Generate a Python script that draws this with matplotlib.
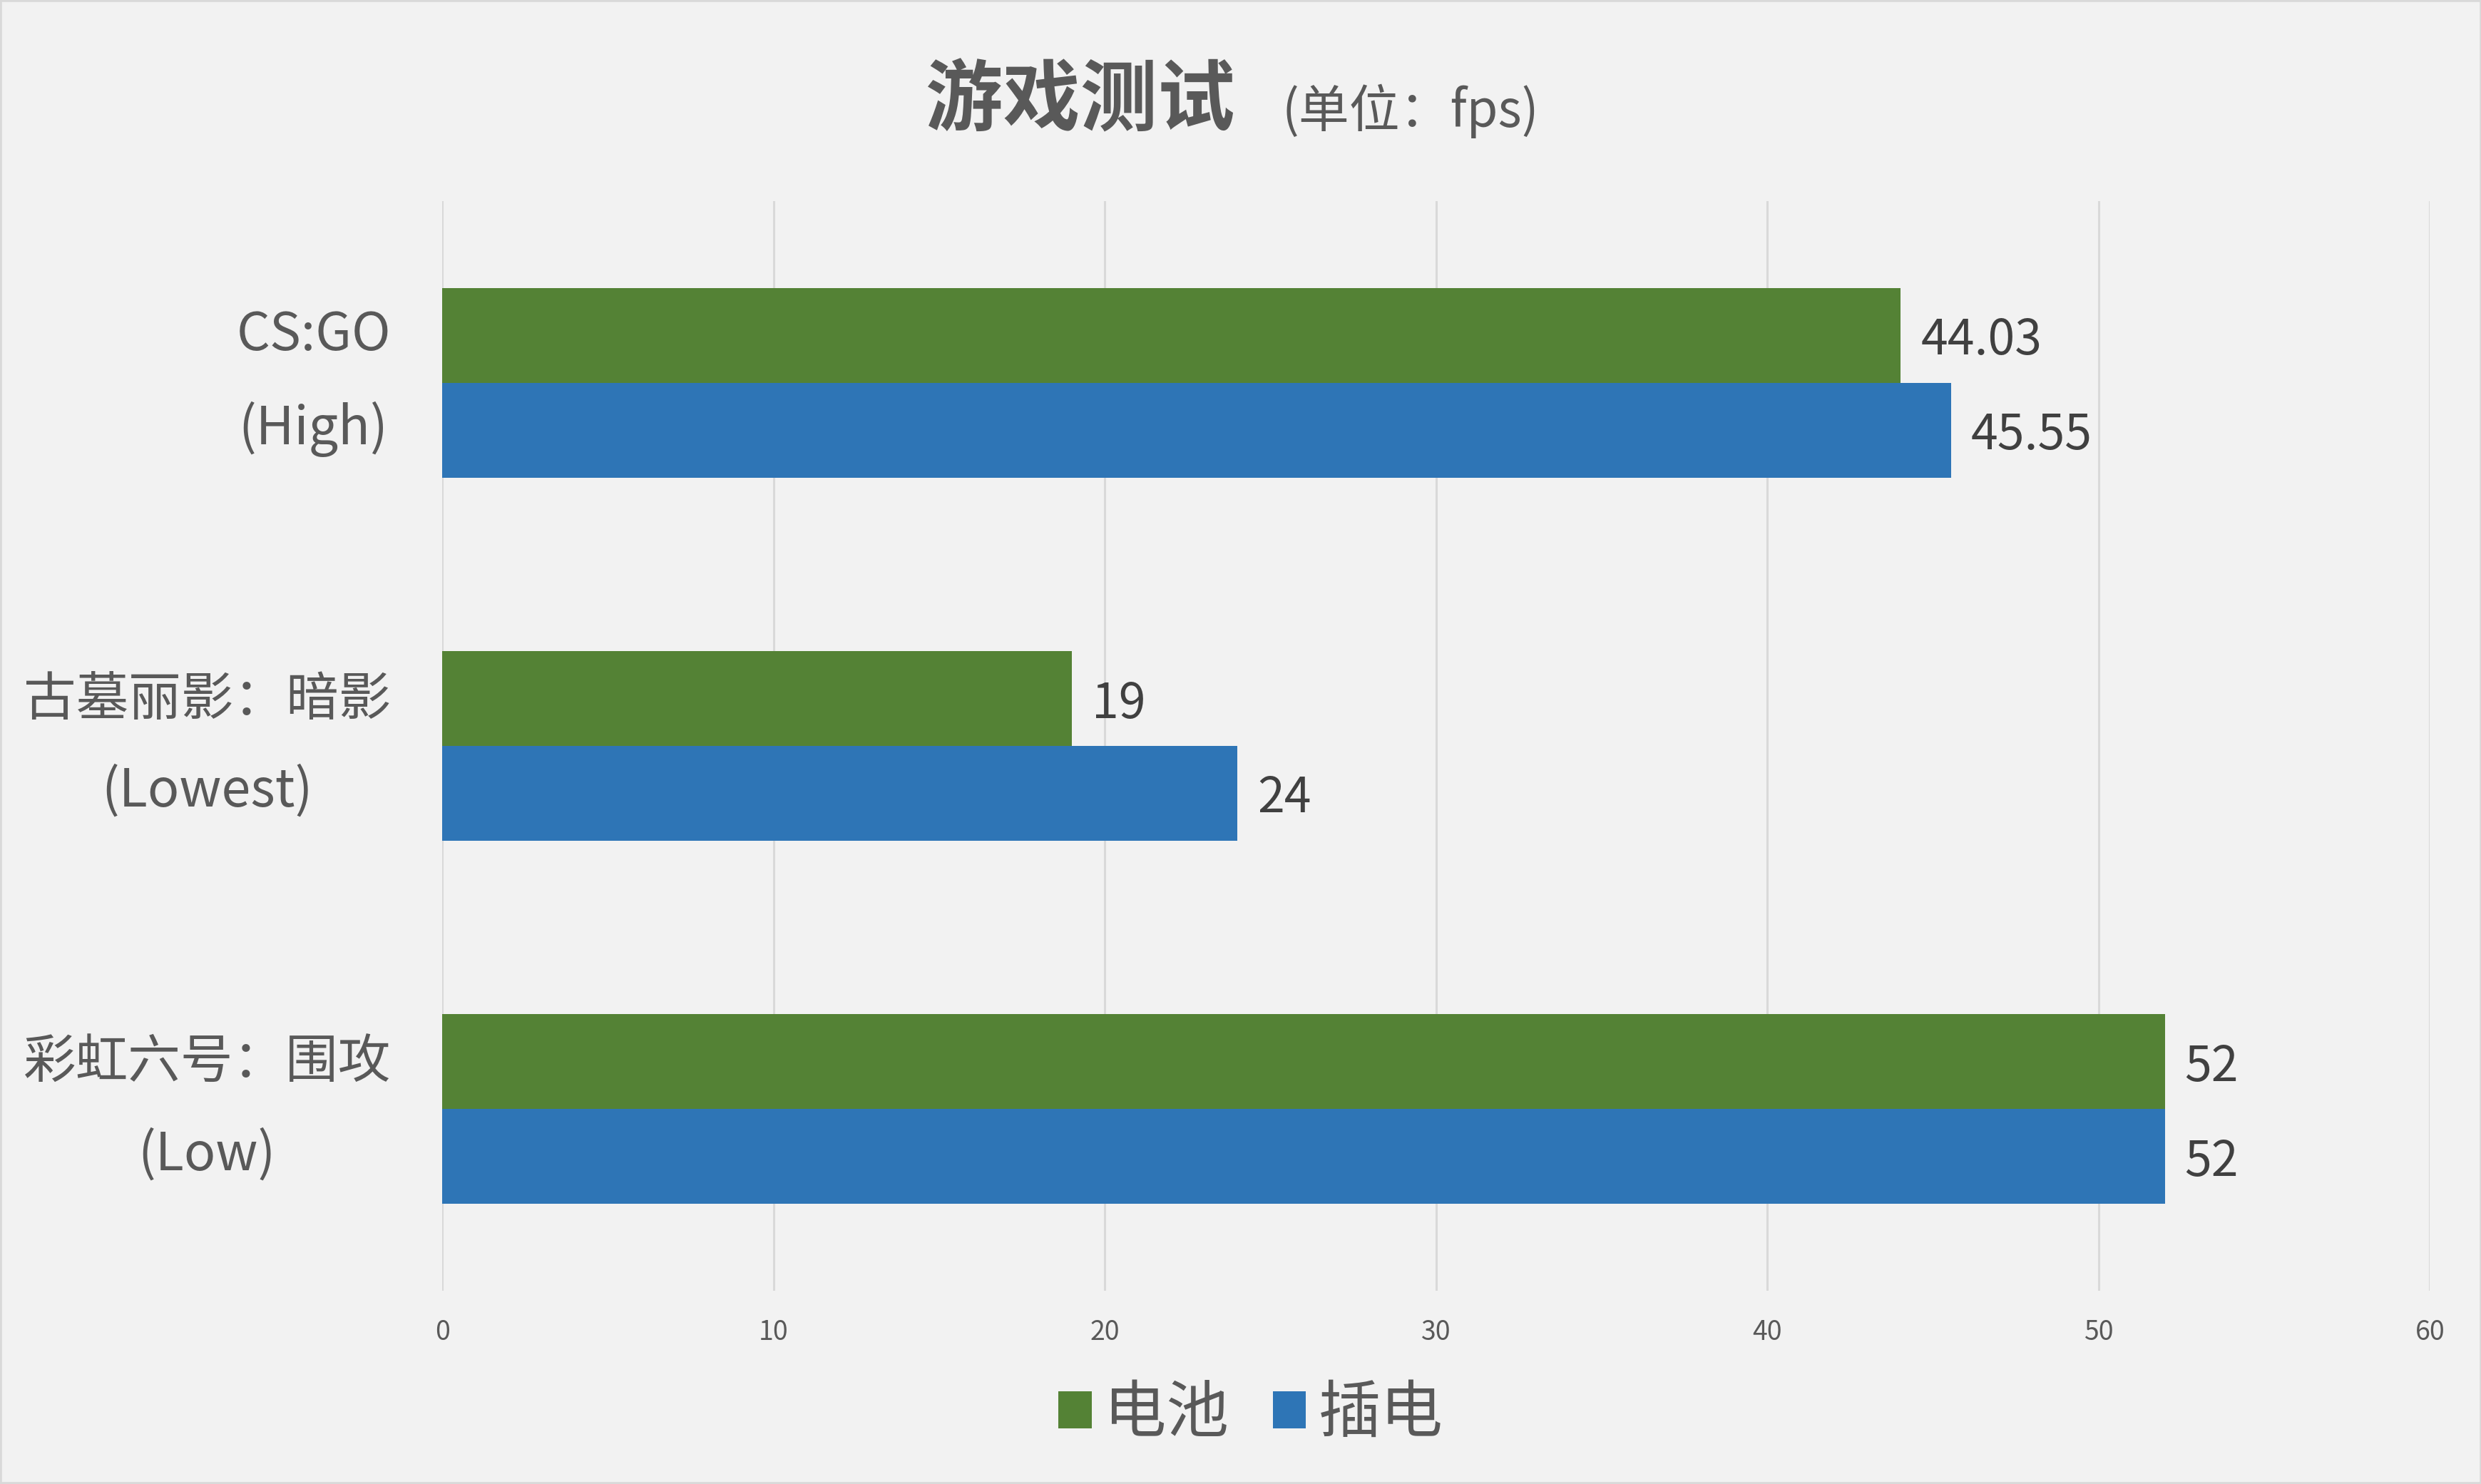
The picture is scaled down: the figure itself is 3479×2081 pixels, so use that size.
import matplotlib.pyplot as plt
from matplotlib.patches import Rectangle
import numpy as np

plt.rcParams['font.family'] = ['Noto Sans CJK SC', 'DejaVu Sans']

games = ['CS:GO\n(High)', '古墓丽影：暗影\n(Lowest)', '彩虹六号：围攻\n(Low)']
battery = [44.03, 19, 52]
plugged = [45.55, 24, 52]
series_names = ['电池', '插电']
x_ticks = [0, 10, 20, 30, 40, 50, 60]

green = '#548235'
blue = '#2e75b6'
bg = '#f2f2f2'
text_grey = '#595959'

fig = plt.figure(figsize=(34.8, 20.81), dpi=100, facecolor=bg)
ax = fig.add_axes([0.1782, 0.1302, 0.8009, 0.7343])
ax.set_facecolor(bg)

y = np.arange(len(games))
h = 0.261
b1 = ax.barh(y - h / 2, battery, height=h, color=green, label=series_names[0], zorder=3)
b2 = ax.barh(y + h / 2, plugged, height=h, color=blue, label=series_names[1], zorder=3)

for bars in (b1, b2):
    labels = ax.bar_label(bars, labels=['{:g}'.format(v) for v in bars.datavalues],
                          padding=20, fontsize=49, color='#404040')
    for t in labels:
        t.set_va('center_baseline')

ax.set_xlim(0, 60)
ax.set_ylim(2.5, -0.5)
ax.set_xticks(x_ticks)
ax.xaxis.grid(True, color='#d9d9d9', linewidth=2.2, zorder=0)
ax.tick_params(axis='x', length=0, pad=28, labelsize=27, labelcolor=text_grey)
ax.set_yticks(y)
ax.set_yticklabels(games, fontsize=53, color=text_grey, multialignment='center',
                   linespacing=1.9)
for t in ax.get_yticklabels():
    t.set_va('center')
ax.tick_params(axis='y', length=0, pad=52)
for s in ax.spines.values():
    s.set_visible(False)

fig.text(0.4975, 0.931, '游戏测试', ha='right', va='center', fontsize=78,
         fontweight='bold', color=text_grey)
fig.text(0.5166, 0.925, '(单位：fps)', ha='left', va='center', fontsize=51,
         color=text_grey)

leg = fig.legend(handles=[b1, b2], loc='center', bbox_to_anchor=(0.504, 0.047),
                 ncol=2, frameon=False, fontsize=63, handlelength=0.53,
                 handleheight=0.53, handletextpad=0.2, columnspacing=0.7)
for t in leg.get_texts():
    t.set_color(text_grey)

fig.patches.append(Rectangle((0, 0), 1, 1, transform=fig.transFigure,
                             fill=False, edgecolor='#d9d9d9', linewidth=4))

fig.savefig('out.png', dpi=100, facecolor=bg)
